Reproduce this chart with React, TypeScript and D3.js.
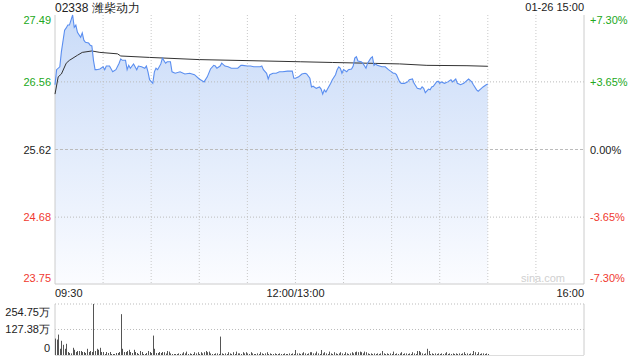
import React from "react";
import * as d3 from "d3";

const title = "02338 潍柴动力";
const stamp = "01-26 15:00";

// trading minutes since 09:30 (12:00 and 13:00 share minute 150)
const priceMinutes = [0,1,3,4,6,7,8,9,11,12,13,14,16,17,18,19,21,22,23,24,25,26,28,30,31,32,34,36,38,40,41,42,44,45,46,47,49,51,52,54,56,57,58,59,61,62,63,64,66,67,69,70,72,73,75,78,81,84,87,90,93,95,97,99,100,101,103,104,106,108,110,112,114,116,117,120,122,124,126,128,129,130,132,133,134,136,138,140,142,145,147,148,149,150,152,154,156,157,159,160,161,163,165,166,167,168,169,170,172,173,175,176,177,178,179,180,182,183,185,186,187,188,189,191,192,194,195,197,198,199,200,201,204,206,208,210,211,212,213,215,216,218,220,221,223,224,226,228,229,230,231,233,234,235,236,238,239,240,241,243,245,247,248,250,251,253,255,256,258,260,261,263,264,266,267,269,270];
const prices = [26.52,26.73,26.77,26.98,27.28,27.31,27.35,27.35,27.49,27.32,27.35,27.25,27.18,27.24,27.14,27.11,27.10,27.07,27.06,26.86,26.73,26.73,26.74,26.77,26.73,26.78,26.78,26.70,26.73,26.82,26.88,26.86,26.86,26.73,26.79,26.75,26.81,26.73,26.78,26.77,26.75,26.78,26.70,26.59,26.54,26.70,26.75,26.73,26.81,26.89,26.82,26.84,26.84,26.70,26.68,26.70,26.67,26.68,26.66,26.60,26.56,26.63,26.74,26.79,26.78,26.75,26.78,26.82,26.78,26.77,26.75,26.75,26.75,26.79,26.79,26.78,26.78,26.77,26.77,26.77,26.78,26.73,26.68,26.60,26.66,26.68,26.68,26.70,26.70,26.71,26.71,26.71,26.61,26.61,26.63,26.67,26.68,26.67,26.61,26.49,26.50,26.47,26.49,26.46,26.39,26.45,26.42,26.46,26.54,26.59,26.66,26.73,26.77,26.75,26.68,26.73,26.70,26.73,26.74,26.78,26.89,26.91,26.85,26.84,26.82,26.75,26.82,26.89,26.91,26.79,26.81,26.79,26.77,26.77,26.73,26.70,26.68,26.68,26.66,26.56,26.54,26.54,26.56,26.59,26.60,26.54,26.47,26.46,26.49,26.47,26.41,26.46,26.45,26.49,26.50,26.56,26.57,26.54,26.56,26.54,26.56,26.59,26.56,26.60,26.54,26.52,26.54,26.56,26.60,26.56,26.52,26.45,26.43,26.47,26.49,26.52,26.53];

const avgMinutes = [0,2,4,7,9,14,17,23,28,39,41,59,90,153,173,215,232,257,270];
const avgPrices = [26.39,26.63,26.67,26.82,26.86,26.93,26.97,26.99,26.97,26.95,26.92,26.90,26.87,26.84,26.83,26.81,26.79,26.785,26.777];

// volume per minute, in 万 shares
const volumes = [
82,77,102,31,71,51,31,56,15,10,
8,36,26,15,20,20,20,15,15,10,
31,15,20,15,255,20,31,26,36,15,
15,5,15,10,15,5,5,5,10,10,
15,204,31,15,15,20,26,15,10,26,
15,10,5,20,15,5,5,10,20,15,
10,97,31,10,10,15,10,15,14,7,
20,17,8,5,5,5,5,8,5,7,
14,8,17,5,8,5,5,14,8,14,
5,14,8,14,20,14,17,8,5,5,
8,8,5,92,8,5,8,5,14,8,
5,14,5,17,8,8,5,14,8,14,
8,5,14,8,5,5,8,5,14,8,
5,8,14,5,8,5,5,8,5,5,
8,5,5,8,5,5,8,5,8,5,
25,8,8,5,8,14,8,5,8,14,
14,8,8,17,8,5,25,8,14,8,
5,17,8,5,14,8,5,8,14,8,
5,14,8,5,8,14,8,14,17,14,
17,14,8,17,14,8,5,8,5,8,
5,8,5,8,20,8,5,8,5,8,
5,17,5,8,5,8,14,5,8,8,
5,8,5,14,8,5,20,20,14,8,
5,8,31,20,5,8,5,8,5,8,
5,8,5,8,14,5,8,5,8,5,
8,5,8,5,8,14,5,8,5,8,
5,20,14,5,14,5,8,8,5,8,
5
];

const priceTicks = [27.49, 26.56, 25.62, 24.68, 23.75];
const pctTicks = ["+7.30%", "+3.65%", "0.00%", "-3.65%", "-7.30%"];
const volTicks = [254.75, 127.38, 0];
const volTickLabels = ["254.75万", "127.38万", "0"];
const timeTicks = [0, 150, 330];
const timeLabels = ["09:30", "12:00/13:00", "16:00"];
const gridMinutes = [30, 60, 90, 120, 150, 180, 210, 240, 270, 300];

const GREEN = "#22a822";
const RED = "#f03a30";
const FONT = "'Liberation Sans', Arial, sans-serif";

export default function App() {
  const L = 55, R = 584, T = 15, B = 284;
  const VT = 304, VB = 355;
  const x = d3.scaleLinear().domain([0, 330]).range([L, R]);
  const y = d3.scaleLinear().domain([23.75, 27.49]).range([B, T]);
  const vy = d3.scaleLinear().domain([0, 254.75]).range([VB, VT]);

  const pts = priceMinutes.map((m, i) => [m, prices[i]] as [number, number]);
  const line = d3.line<[number, number]>().x(d => x(d[0])).y(d => y(d[1]));
  const area = d3.area<[number, number]>().x(d => x(d[0])).y0(B).y1(d => y(d[1]));
  const avgPts = avgMinutes.map((m, i) => [m, avgPrices[i]] as [number, number]);

  const colorFor = (i: number) => (i < 2 ? GREEN : i === 2 ? "#222" : RED);
  const labelY = (i: number, yy: number) => (i === 0 ? yy + 9 : i === 4 ? yy - 2 : yy + 4);

  return (
    <svg width={640} height={360} style={{ position: "fixed", left: 0, top: 0, background: "#fff" }} fontFamily={FONT}>
      <defs>
        <linearGradient id="fillg" x1="0" y1="0" x2="0" y2="1" gradientUnits="userSpaceOnUse" >
        </linearGradient>
        <linearGradient id="areaGrad" x1="0" x2="0" y1={T} y2={B} gradientUnits="userSpaceOnUse">
          <stop offset="0" stopColor="#c9dbf8" />
          <stop offset="1" stopColor="#fbfcff" />
        </linearGradient>
      </defs>
      <text x={L} y={12} fontSize={12} fill="#222">{title}</text>
      <text x={R} y={11} fontSize={11} fill="#222" textAnchor="end">{stamp}</text>

      <path d={area(pts) || ""} fill="url(#areaGrad)" />

      {gridMinutes.map(m => (
        <line key={"vg" + m} x1={x(m)} x2={x(m)} y1={T} y2={B} stroke="#c8c8c8" strokeDasharray="1,2" />
      ))}
      {priceTicks.slice(1, 4).map((p, i) => (
        <line key={"hg" + p} x1={L} x2={R} y1={y(p)} y2={y(p)} stroke="#bbb"
          strokeDasharray={i === 1 ? "3,2" : "1,2"} />
      ))}
      <line x1={L} x2={L} y1={T} y2={B} stroke="#ccc" />
      <line x1={R} x2={R} y1={T} y2={B} stroke="#ccc" />
      <line x1={L} x2={R} y1={B} y2={B} stroke="#ccc" />

      <path d={line(avgPts) || ""} fill="none" stroke="#333" strokeWidth={1} />
      <path d={line(pts) || ""} fill="none" stroke="#5a8ef0" strokeWidth={1.1} />

      <text x={565} y={282} fontSize={11} fill="#d0d0d0" textAnchor="end">sina.com</text>

      {priceTicks.map((p, i) => (
        <text key={"pl" + p} x={51} y={labelY(i, y(p))} fontSize={11} fill={colorFor(i)} textAnchor="end">{p.toFixed(2)}</text>
      ))}
      {pctTicks.map((t, i) => (
        <text key={"pr" + t} x={590} y={labelY(i, y(priceTicks[i]))} fontSize={11} fill={colorFor(i)}>{t}</text>
      ))}

      {timeTicks.map((m, i) => (
        <text key={"tl" + m} x={x(m)} y={297} fontSize={11} fill="#222"
          textAnchor={i === 0 ? "start" : i === 2 ? "end" : "middle"}>{timeLabels[i]}</text>
      ))}

      {volTicks.slice(0, 2).map(v => (
        <line key={"vgl" + v} x1={L} x2={R} y1={vy(v)} y2={vy(v)} stroke="#bbb" strokeDasharray="1,2" />
      ))}
      <line x1={L} x2={L} y1={VT} y2={VB} stroke="#ccc" />
      <line x1={R} x2={R} y1={VT} y2={VB} stroke="#ccc" />
      <line x1={L} x2={R} y1={VB + 0.5} y2={VB + 0.5} stroke="#ddd" />
      {volumes.map((v, i) => (
        <rect key={"vb" + i} x={Math.round(x(i))} y={vy(v)} width={1} height={VB - vy(v)} fill="#555" />
      ))}
      {volTicks.map((v, i) => (
        <text key={"vl" + v} x={50} y={i === 0 ? vy(v) + 12 : i === 2 ? vy(v) - 3 : vy(v) + 4}
          fontSize={11} fill="#222" textAnchor="end">{volTickLabels[i]}</text>
      ))}
    </svg>
  );
}
